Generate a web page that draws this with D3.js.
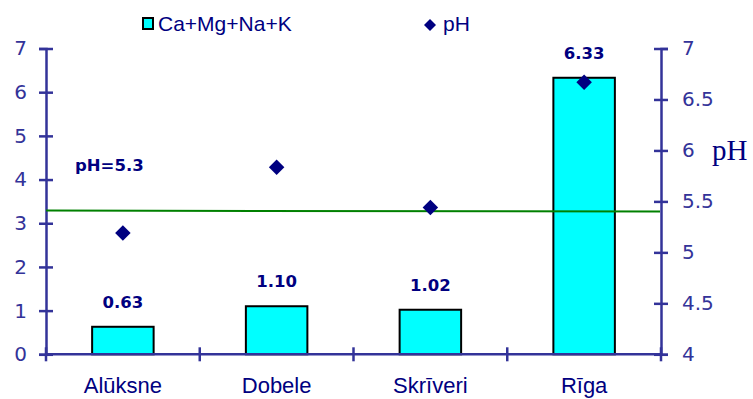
<!DOCTYPE html>
<html>
<head>
<meta charset="utf-8">
<script src="https://cdn.jsdelivr.net/npm/d3@7"></script>
<style>
  html, body { margin: 0; padding: 0; background: #fff; }
  svg { display: block; }
</style>
</head>
<body>
<svg id="chart" width="753" height="399"></svg>
<script>
// Sites and measured values
const categories = ["Alūksne", "Dobele", "Skrīveri", "Rīga"];
const cationSum = [0.63, 1.10, 1.02, 6.33];      // Ca+Mg+Na+K (left axis)
const phValues = [5.19, 5.835, 5.44, 6.67];       // pH (right axis)
const phReference = [5.41, 5.40];                 // reference line, pH at left and right end
const leftTicks = [0, 1, 2, 3, 4, 5, 6, 7];
const rightTicks = [4, 4.5, 5, 5.5, 6, 6.5, 7];
const seriesNames = ["Ca+Mg+Na+K", "pH"];

const axisColor = "#333399";
const navy = "#000080";

const svg = d3.select("#chart");

const plotLeft = 46, plotRight = 661, plotTop = 48.5, plotBottom = 354.3;

const x = d3.scaleBand().domain(categories).range([plotLeft, plotRight]).padding(0);
const yLeft = d3.scaleLinear().domain([0, 7]).range([plotBottom, plotTop]);
const yRight = d3.scaleLinear().domain([4, 7]).range([plotBottom, plotTop]);

const barFrac = 0.4;
const bw = x.bandwidth() * barFrac;
const cx = c => x(c) + x.bandwidth() / 2;

// Bars
svg.append("g").selectAll("rect")
  .data(categories)
  .join("rect")
  .attr("x", c => cx(c) - bw / 2)
  .attr("width", bw)
  .attr("y", (c, i) => yLeft(cationSum[i]))
  .attr("height", (c, i) => yLeft(0) - yLeft(cationSum[i]))
  .attr("fill", "#00ffff")
  .attr("stroke", "#000")
  .attr("stroke-width", 2);

// Bar value labels
svg.append("g").selectAll("text")
  .data(categories)
  .join("text")
  .attr("x", c => cx(c))
  .attr("y", (c, i) => yLeft(cationSum[i]) - 19)
  .attr("text-anchor", "middle")
  .attr("font-family", "DejaVu Sans")
  .attr("font-weight", "bold")
  .attr("font-size", 16.5)
  .attr("fill", navy)
  .text((c, i) => cationSum[i].toFixed(2));

// Left axis
const gL = svg.append("g").attr("transform", `translate(${plotLeft},0)`)
  .call(d3.axisLeft(yLeft).tickValues(leftTicks).tickSize(7).tickPadding(12).tickFormat(d3.format("d")));
gL.select(".domain").attr("stroke", axisColor).attr("stroke-width", 2.5);
gL.selectAll(".tick line").attr("x1", -7).attr("x2", 7).attr("stroke", axisColor).attr("stroke-width", 2.5);
gL.selectAll(".tick text").attr("fill", axisColor).attr("font-family", "DejaVu Sans").attr("font-size", 20);

// Right axis
const gR = svg.append("g").attr("transform", `translate(${plotRight},0)`)
  .call(d3.axisRight(yRight).tickValues(rightTicks).tickSize(7).tickPadding(14).tickFormat(d3.format("~g")));
gR.select(".domain").attr("stroke", axisColor).attr("stroke-width", 2.5);
gR.selectAll(".tick line").attr("x1", -7).attr("x2", 7).attr("stroke", axisColor).attr("stroke-width", 2.5);
gR.selectAll(".tick text").attr("fill", axisColor).attr("font-family", "DejaVu Sans").attr("font-size", 20);

// Category axis with boundary ticks
const gX = svg.append("g");
gX.append("line")
  .attr("x1", plotLeft).attr("x2", plotRight)
  .attr("y1", plotBottom).attr("y2", plotBottom)
  .attr("stroke", axisColor).attr("stroke-width", 2.5);
const bounds = categories.map(c => x(c)).concat([plotRight]);
gX.selectAll("line.tick")
  .data(bounds)
  .join("line")
  .attr("class", "tick")
  .attr("x1", d => d).attr("x2", d => d)
  .attr("y1", plotBottom - 7).attr("y2", plotBottom + 7)
  .attr("stroke", axisColor).attr("stroke-width", 2.5);
gX.selectAll("text")
  .data(categories)
  .join("text")
  .attr("x", c => cx(c))
  .attr("y", 393)
  .attr("text-anchor", "middle")
  .attr("font-family", "Liberation Sans, Arial")
  .attr("font-size", 22)
  .attr("fill", navy)
  .text(c => c);

// Reference pH line
svg.append("line")
  .attr("x1", plotLeft).attr("x2", plotRight - 1)
  .attr("y1", yRight(phReference[0])).attr("y2", yRight(phReference[1]))
  .attr("stroke", "#008000").attr("stroke-width", 2);

svg.append("text")
  .attr("x", 75).attr("y", 171)
  .attr("font-family", "DejaVu Sans")
  .attr("font-weight", "bold")
  .attr("font-size", 16.5)
  .attr("fill", navy)
  .text("pH=5.3");

// pH markers
svg.append("g").selectAll("path")
  .data(categories)
  .join("path")
  .attr("transform", (c, i) => `translate(${cx(c)},${yRight(phValues[i])}) rotate(45)`)
  .attr("d", d3.symbol().type(d3.symbolSquare).size(120))
  .attr("fill", navy);

// Right axis title
svg.append("text")
  .attr("x", 712).attr("y", 160)
  .attr("font-family", "Liberation Serif, Times New Roman")
  .attr("font-size", 29)
  .attr("fill", navy)
  .text("pH");

// Legend
const leg = svg.append("g");
leg.append("rect")
  .attr("x", 143).attr("y", 18).attr("width", 10).attr("height", 11)
  .attr("fill", "#00ffff").attr("stroke", "#000").attr("stroke-width", 2);
leg.append("text")
  .attr("x", 158).attr("y", 31)
  .attr("font-family", "Liberation Sans, Arial")
  .attr("font-size", 21)
  .attr("fill", navy)
  .text(seriesNames[0]);
leg.append("path")
  .attr("transform", "translate(430,25) rotate(45)")
  .attr("d", d3.symbol().type(d3.symbolSquare).size(72))
  .attr("fill", navy);
leg.append("text")
  .attr("x", 443).attr("y", 31)
  .attr("font-family", "Liberation Sans, Arial")
  .attr("font-size", 21)
  .attr("fill", navy)
  .text(seriesNames[1]);
</script>
</body>
</html>
